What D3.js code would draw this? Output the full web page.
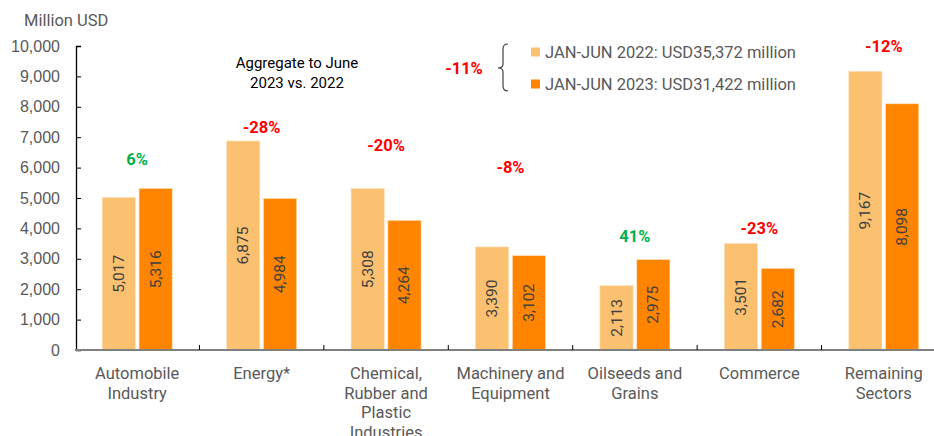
<!DOCTYPE html>
<html>
<head>
<meta charset="utf-8">
<script src="https://cdn.jsdelivr.net/npm/d3@7.9.0/dist/d3.min.js"></script>
<style>
  body { margin: 0; background: #fff; }
  svg { display: block; font-family: Roboto, "Noto Sans", sans-serif; }
</style>
</head>
<body>
<svg width="934" height="436"></svg>
<script>
const categories = [
  ['Automobile', 'Industry'],
  ['Energy*'],
  ['Chemical,', 'Rubber and', 'Plastic', 'Industries'],
  ['Machinery and', 'Equipment'],
  ['Oilseeds and', 'Grains'],
  ['Commerce'],
  ['Remaining', 'Sectors']
];
const seriesNames = ['JAN-JUN 2022: USD35,372 million', 'JAN-JUN 2023: USD31,422 million'];
const values2022 = [5017, 6875, 5308, 3390, 2113, 3501, 9167];
const values2023 = [5316, 4984, 4264, 3102, 2975, 2682, 8098];
const pctLabels = ['6%', '-28%', '-20%', '-8%', '41%', '-23%', '-12%'];
const totalPct = '-11%';
const yTicks = [0, 1000, 2000, 3000, 4000, 5000, 6000, 7000, 8000, 9000, 10000];

// layout only: how far above the taller bar each % label sits (px)
const pctLift = [23, 8, 38, 74, 18, 10, 19];

const colors = ['#fbc171', '#ff8500'];
const svg = d3.select('svg');
const keys = categories.map(c => c.join(' '));

const y = d3.scaleLinear().domain([0, 10000]).range([350, 46]);
const x0 = d3.scaleBand().domain(keys).range([75, 946]).padding(0);
const x1 = d3.scaleBand().domain([0, 1]).range([0, 70]).paddingInner(0.1);

// y axis
const yAxis = svg.append('g').attr('transform', 'translate(76,0)')
  .call(d3.axisLeft(y).tickValues(yTicks).tickSize(-5).tickPadding(16).tickFormat(d3.format(',')));
yAxis.select('.domain').attr('stroke', '#000').attr('stroke-width', 1.3);
yAxis.selectAll('.tick line').attr('stroke', '#000');
yAxis.selectAll('text').attr('fill', '#595959').attr('font-size', 16);

svg.append('text').attr('x', 24).attr('y', 26)
  .attr('fill', '#595959').attr('font-size', 16.5).text('Million USD');

// bars
const groups = svg.append('g').selectAll('g').data(keys).join('g')
  .attr('transform', d => `translate(${x0(d) + x0.bandwidth() / 2 - 35},0)`);

[values2022, values2023].forEach((vals, s) => {
  groups.append('rect')
    .attr('x', x1(s))
    .attr('y', (d, i) => y(vals[i]))
    .attr('width', x1.bandwidth())
    .attr('height', (d, i) => y(0) - y(vals[i]))
    .attr('fill', colors[s])
    .attr('stroke', '#fde0b8').attr('stroke-width', 0.6);
  groups.append('text')
    .attr('transform', (d, i) => `translate(${x1(s) + x1.bandwidth() / 2 + 5},${(y(vals[i]) + y(0)) / 2}) rotate(-90)`)
    .attr('text-anchor', 'middle')
    .attr('fill', '#404040').attr('font-size', 15.5)
    .text((d, i) => d3.format(',')(vals[i]));
});

// % change labels
groups.append('text')
  .attr('x', 35)
  .attr('y', (d, i) => y(Math.max(values2022[i], values2023[i])) - pctLift[i])
  .attr('text-anchor', 'middle')
  .attr('font-size', 16.5).attr('font-weight', 'bold')
  .attr('fill', (d, i) => pctLabels[i].startsWith('-') ? '#ff0000' : '#00b050')
  .text((d, i) => pctLabels[i]);

// x axis
svg.append('line').attr('x1', 75).attr('x2', 934).attr('y1', y(0)).attr('y2', y(0))
  .attr('stroke', '#808080').attr('stroke-width', 2);
keys.slice(1).forEach(k => {
  svg.append('line').attr('x1', x0(k)).attr('x2', x0(k))
    .attr('y1', y(0) - 5).attr('y2', y(0)).attr('stroke', '#000');
});
categories.forEach((lines, i) => {
  const t = svg.append('text')
    .attr('x', x0(keys[i]) + x0.bandwidth() / 2)
    .attr('y', 379)
    .attr('text-anchor', 'middle')
    .attr('fill', '#595959').attr('font-size', 16.5);
  lines.forEach((l, j) => t.append('tspan')
    .attr('x', x0(keys[i]) + x0.bandwidth() / 2)
    .attr('dy', j === 0 ? 0 : 19.5).text(l));
});

// aggregate note
const note = svg.append('text').attr('text-anchor', 'middle')
  .attr('fill', '#000').attr('font-size', 15);
note.append('tspan').attr('x', 297).attr('y', 68).text('Aggregate to June');
note.append('tspan').attr('x', 297).attr('y', 88).text('2023 vs. 2022');

// legend
const legend = svg.append('g');
seriesNames.forEach((name, s) => {
  const ly = 52 + s * 32;
  legend.append('rect').attr('x', 531).attr('y', ly - 4.5).attr('width', 9).attr('height', 9)
    .attr('fill', colors[s]);
  legend.append('text').attr('x', 545).attr('y', ly + 6)
    .attr('fill', '#595959').attr('font-size', 16.5).text(name);
});
legend.append('path')
  .attr('d', 'M508,44 Q503,44 503,49 L503,64 Q503,68 498,68 Q503,68 503,72 L503,86 Q503,91 508,91')
  .attr('fill', 'none').attr('stroke', '#404040').attr('stroke-width', 1.2);
legend.append('text').attr('x', 464).attr('y', 74).attr('text-anchor', 'middle')
  .attr('font-size', 16.5).attr('font-weight', 'bold').attr('fill', '#ff0000').text(totalPct);
</script>
</body>
</html>
